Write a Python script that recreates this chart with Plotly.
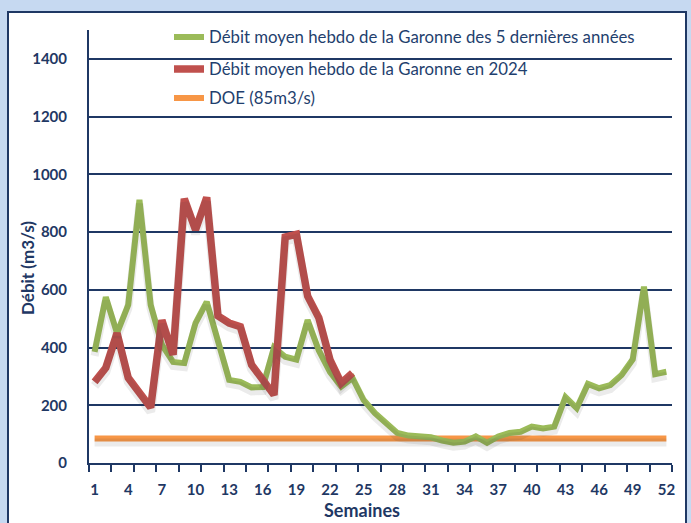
import plotly.graph_objects as go

weeks = list(range(1, 53))
green_5yrs = [385, 575, 450, 548, 912, 548, 410, 350, 346, 485, 558, 415, 288, 281, 262, 263,
              400, 368, 358, 495, 390, 315, 265, 295, 218, 173, 139, 104, 95, 91, 89, 78,
              70, 74, 92, 70, 92, 104, 108, 126, 120, 126, 228, 190, 274, 259, 270, 305,
              359, 611, 308, 316]
weeks_2024 = list(range(1, 25))
red_2024 = [281, 330, 450, 295, 243, 192, 495, 375, 915, 808, 920, 510, 485, 472, 340, 288,
            236, 783, 792, 578, 503, 357, 277, 312]
doe = [85] * 52
xtick_vals = list(range(1, 53, 3))

names = ["Débit moyen hebdo de la Garonne des 5 dernières années",
         "Débit moyen hebdo de la Garonne en 2024",
         "DOE (85m3/s)"]

W, H = 691, 523
L, R, T, B = 89, 672, 30, 463
def px(p):
    return (p - L) / (R - L)
def py(p):
    return (B - p) / (B - T)

NAVY = "#1f3864"
FONT = "Lato"

fig = go.Figure()
# soft shadows (same data, on a y axis shifted a few pixels)
shift = 4 * 1500 / (B - T)
for xs, ys, wdt in [(weeks, doe, 6), (weeks, green_5yrs, 6), (weeks_2024, red_2024, 7)]:
    fig.add_trace(go.Scatter(x=xs, y=ys, mode="lines", yaxis="y2", showlegend=False,
                             hoverinfo="skip",
                             line=dict(color="rgba(60,60,60,0.10)", width=wdt + 2)))

fig.add_trace(go.Scatter(x=weeks, y=doe, mode="lines", name=names[2],
                         line=dict(color="#f79646", width=6), legend="legend3"))
fig.add_trace(go.Scatter(x=weeks, y=green_5yrs, mode="lines", name=names[0],
                         line=dict(color="#9bbb59", width=6), legend="legend"))
fig.add_trace(go.Scatter(x=weeks_2024, y=red_2024, mode="lines", name=names[1],
                         line=dict(color="#c0504d", width=7.5), legend="legend2"))

legfont = dict(family=FONT, size=16.8, color="#1f3f6e")
def leg(y):
    return dict(x=px(169), y=py(y), xanchor="left", yanchor="middle",
                bgcolor="rgba(0,0,0,0)", font=legfont, itemwidth=30)

fig.update_layout(
    width=W, height=H,
    margin=dict(l=L, r=W - R, t=T, b=H - B),
    paper_bgcolor="#c6d9f1",
    plot_bgcolor="white",
    showlegend=True,
    legend=leg(37), legend2=leg(69), legend3=leg(98),
    xaxis=dict(range=[0.5, 52.5], tickmode="array", tickvals=xtick_vals,
               ticks="outside", ticklen=7, tickcolor="rgba(0,0,0,0)",
               ticklabelstandoff=5,
               showgrid=False, zeroline=False, showline=True, linecolor=NAVY, linewidth=2,
               tickfont=dict(family=FONT, size=15, color=NAVY, weight="bold"),
               minor=dict(tickmode="linear", tick0=0.5, dtick=2, ticks="outside",
                          ticklen=7, tickcolor=NAVY, tickwidth=2, showgrid=False)),
    yaxis=dict(range=[0, 1500], tickmode="linear", tick0=0, dtick=200,
               showgrid=True, gridcolor=NAVY, gridwidth=1.5, zeroline=False,
               showline=True, linecolor=NAVY, linewidth=2, ticks="",
               ticklabelstandoff=17,
               tickfont=dict(family=FONT, size=15, color=NAVY, weight="bold")),
    yaxis2=dict(range=[shift, 1500 + shift], overlaying="y", visible=False),
    shapes=[dict(type="rect", xref="paper", yref="paper",
                 x0=px(8), x1=px(686), y0=py(530), y1=py(12),
                 fillcolor="white", line=dict(color=NAVY, width=2), layer="below")],
    annotations=[
        dict(text="<b>Semaines</b>", xref="paper", yref="paper", x=px(362), y=py(510),
             xanchor="center", yanchor="middle", showarrow=False,
             font=dict(family=FONT, size=18, color=NAVY)),
        dict(text="<b>Débit (m3/s)</b>", xref="paper", yref="paper", x=px(27), y=py(268),
             xanchor="center", yanchor="middle", showarrow=False, textangle=-90,
             font=dict(family=FONT, size=17, color=NAVY)),
    ],
)

fig.write_html("out.html", config={"displayModeBar": False},
               post_script="document.body.style.margin='0';document.body.style.overflow='hidden';")
